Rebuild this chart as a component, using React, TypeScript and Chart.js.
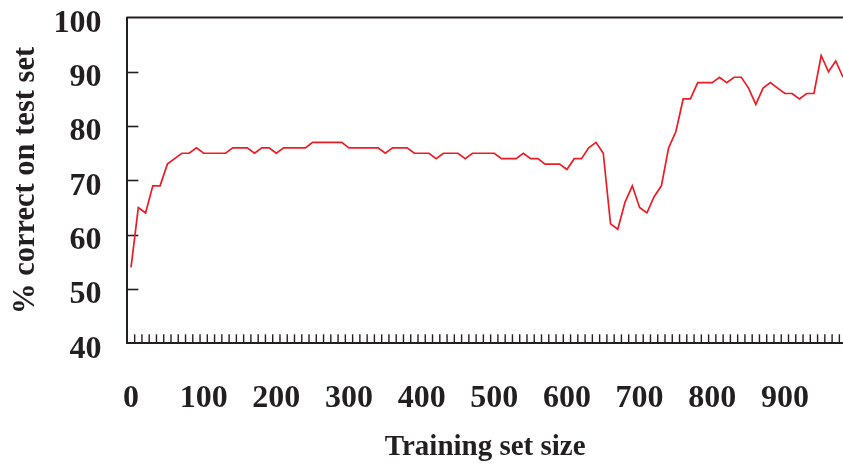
import React, { useEffect, useRef } from 'react';
import { Chart, registerables } from 'chart.js';

Chart.register(...registerables);

// Training set sizes (one point every 10 examples)
const SIZES = [
  0, 10, 20, 30, 40, 50, 60, 70, 80, 90,
  100, 110, 120, 130, 140, 150, 160, 170, 180, 190,
  200, 210, 220, 230, 240, 250, 260, 270, 280, 290,
  300, 310, 320, 330, 340, 350, 360, 370, 380, 390,
  400, 410, 420, 430, 440, 450, 460, 470, 480, 490,
  500, 510, 520, 530, 540, 550, 560, 570, 580, 590,
  600, 610, 620, 630, 640, 650, 660, 670, 680, 690,
  700, 710, 720, 730, 740, 750, 760, 770, 780, 790,
  800, 810, 820, 830, 840, 850, 860, 870, 880, 890,
  900, 910, 920, 930, 940, 950, 960, 970, 980,
];

// % correct on test set
const ACCURACY = [
  54, 65, 64, 69, 69, 73, 74, 75, 75, 76,
  75, 75, 75, 75, 76, 76, 76, 75, 76, 76,
  75, 76, 76, 76, 76, 77, 77, 77, 77, 77,
  76, 76, 76, 76, 76, 75, 76, 76, 76, 75,
  75, 75, 74, 75, 75, 75, 74, 75, 75, 75,
  75, 74, 74, 74, 75, 74, 74, 73, 73, 73,
  72, 74, 74, 76, 77, 75, 62, 61, 66, 69,
  65, 64, 67, 69, 76, 79, 85, 85, 88, 88,
  88, 89, 88, 89, 89, 87, 84, 87, 88, 87,
  86, 86, 85, 86, 86, 93, 90, 92, 89,
];

const X_TICK_LABELS = [0, 100, 200, 300, 400, 500, 600, 700, 800, 900];
const Y_TICK_LABELS = [40, 50, 60, 70, 80, 90, 100];

const X_TITLE = 'Training set size';
const Y_TITLE = '% correct on test set';

const INK = '#231F20';
const RED = '#ED1C24';
const FONT = "'Liberation Serif', 'Times New Roman', serif";

const innerTicks = {
  id: 'innerTicks',
  beforeDatasetsDraw(chart: any) {
    const { ctx, chartArea, scales } = chart;
    const x = scales.x;
    const y = scales.y;
    ctx.save();
    ctx.strokeStyle = INK;
    // y-axis inward tick marks
    ctx.lineWidth = 1.6;
    const yMin = Y_TICK_LABELS[0];
    const yMax = Y_TICK_LABELS[Y_TICK_LABELS.length - 1];
    Y_TICK_LABELS.forEach((v) => {
      if (v === yMin || v === yMax) return;
      const py = Math.round(y.getPixelForValue(v)) + 0.5;
      ctx.beginPath();
      ctx.moveTo(chartArea.left, py);
      ctx.lineTo(chartArea.left + 11, py);
      ctx.stroke();
    });
    // x-axis inward tick marks at category boundaries
    ctx.lineWidth = 1.4;
    SIZES.forEach((s, i) => {
      if (i === SIZES.length - 1) return;
      const boundary = (s + SIZES[i + 1]) / 2;
      const px = x.getPixelForValue(boundary);
      ctx.beginPath();
      ctx.moveTo(px, chartArea.bottom);
      ctx.lineTo(px, chartArea.bottom - 9);
      ctx.stroke();
    });
    // top frame line
    ctx.lineWidth = 2;
    ctx.beginPath();
    ctx.moveTo(chartArea.left - 1, chartArea.top);
    ctx.lineTo(chartArea.right, chartArea.top);
    ctx.stroke();
    ctx.restore();
  },
};

export default function App() {
  const ref = useRef<HTMLCanvasElement | null>(null);

  useEffect(() => {
    if (!ref.current) return;
    const half = (SIZES[1] - SIZES[0]) / 2;
    const chart = new Chart(ref.current, {
      type: 'line',
      data: {
        datasets: [
          {
            data: SIZES.map((s, i) => ({ x: s, y: ACCURACY[i] })),
            borderColor: RED,
            borderWidth: 1.7,
            pointRadius: 0,
            tension: 0,
            fill: false,
          },
        ],
      },
      options: {
        animation: false,
        responsive: false,
        maintainAspectRatio: false,
        layout: { padding: { top: 17.5, right: 0, bottom: 0, left: 0 } },
        plugins: {
          legend: { display: false },
          tooltip: { enabled: false },
        },
        scales: {
          x: {
            type: 'linear',
            min: SIZES[0] - half,
            max: SIZES[SIZES.length - 1],
            afterBuildTicks: (scale: any) => {
              scale.ticks = X_TICK_LABELS.map((v) => ({ value: v }));
            },
            afterFit: (scale: any) => {
              scale.height = 124.7;
              scale.paddingLeft = 0;
              scale.paddingRight = 0;
            },
            grid: { drawOnChartArea: false, drawTicks: false },
            border: { display: true, color: INK, width: 2 },
            ticks: {
              padding: 39.5,
              maxRotation: 0,
              autoSkip: false,
              color: INK,
              font: { family: FONT, size: 32, weight: 'bold', lineHeight: 1 },
              callback: (v: any) => String(v),
            },
            title: {
              display: true,
              text: X_TITLE,
              color: INK,
              font: { family: FONT, size: 29, weight: 'bold', lineHeight: 1.2 },
              padding: { top: 0, bottom: 3 },
            },
          },
          y: {
            type: 'linear',
            min: Y_TICK_LABELS[0],
            max: Y_TICK_LABELS[Y_TICK_LABELS.length - 1],
            afterBuildTicks: (scale: any) => {
              scale.ticks = Y_TICK_LABELS.map((v) => ({ value: v }));
            },
            afterFit: (scale: any) => {
              scale.width = 127.4;
              scale.paddingTop = 0;
              scale.paddingBottom = 0;
            },
            grid: { drawOnChartArea: false, drawTicks: false },
            border: { display: true, color: INK, width: 2 },
            ticks: {
              padding: 26,
              labelOffset: 6,
              color: INK,
              font: { family: FONT, size: 32, weight: 'bold', lineHeight: 1 },
              callback: (v: any) => String(v),
            },
            title: {
              display: true,
              text: Y_TITLE,
              color: INK,
              font: { family: FONT, size: 30.5, weight: 'bold', lineHeight: 1.2 },
              padding: { top: 8, bottom: 0 },
            },
          },
        },
      },
      plugins: [innerTicks],
    } as any);
    return () => chart.destroy();
  }, []);

  return (
    <div style={{ position: 'fixed', left: 0, top: 0, width: 843, height: 468, background: '#fff' }}>
      <canvas ref={ref} width={843} height={468} style={{ display: 'block' }} />
    </div>
  );
}
